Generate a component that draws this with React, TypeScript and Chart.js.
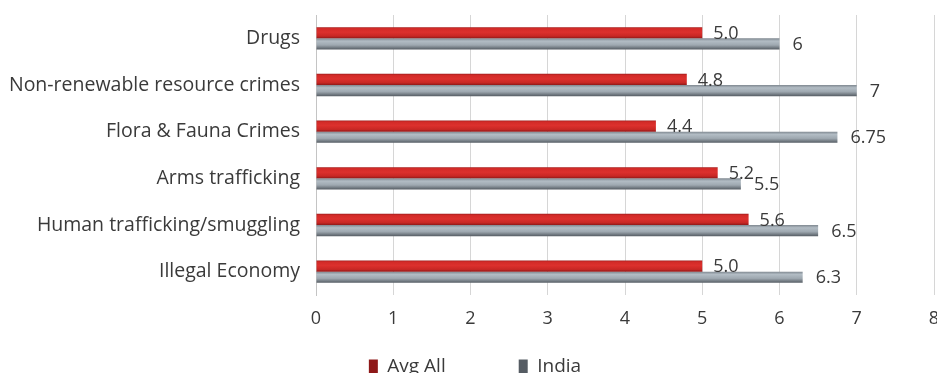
import React, { useEffect, useRef } from "react";
import { Chart, registerables } from "chart.js";

Chart.register(...registerables);

const categories = [
  "Drugs",
  "Non-renewable resource crimes",
  "Flora & Fauna Crimes",
  "Arms trafficking",
  "Human trafficking/smuggling",
  "Illegal Economy",
];
const avgAll = [5.0, 4.8, 4.4, 5.2, 5.6, 5.0];
const india = [6, 7, 6.75, 5.5, 6.5, 6.3];
const avgLabels = ["5.0", "4.8", "4.4", "5.2", "5.6", "5.0"];
const indiaLabels = ["6", "7", "6.75", "5.5", "6.5", "6.3"];
const xTicks = [0, 1, 2, 3, 4, 5, 6, 7, 8];

const FONT = "'Open Sans', 'Noto Sans', sans-serif";
const CAT_PCT = 0.48;
const LEGEND_GAP = 73;

function barFill(stops: [number, string][], solid: string) {
  return (ctx: any) => {
    const chart = ctx.chart;
    if (ctx.dataIndex === undefined || !chart.chartArea || !chart.scales || !chart.scales.y) return solid;
    const y = chart.scales.y;
    const center = y.getPixelForValue(ctx.dataIndex);
    const step = Math.abs(y.getPixelForValue(1) - y.getPixelForValue(0));
    if (!isFinite(center) || !isFinite(step) || step === 0) return solid;
    const half = (step * CAT_PCT) / 2;
    const top = ctx.datasetIndex === 0 ? center - half : center;
    const bottom = top + half;
    const g = chart.ctx.createLinearGradient(0, top, 0, bottom);
    stops.forEach(([o, c]) => g.addColorStop(o, c));
    return g;
  };
}

const labelPlugin = {
  id: "valueLabels",
  afterDatasetsDraw(chart: any) {
    const ctx = chart.ctx;
    ctx.save();
    ctx.font = `18px ${FONT}`;
    ctx.fillStyle = "#3a3a3a";
    ctx.textAlign = "left";
    ctx.textBaseline = "middle";
    const texts = [avgLabels, indiaLabels];
    chart.data.datasets.forEach((_ds: any, di: number) => {
      const meta = chart.getDatasetMeta(di);
      meta.data.forEach((el: any, i: number) => {
        const off = di === 0 ? 11 : 13;
        ctx.fillText(texts[di][i], el.x + off, el.y + 1);
      });
    });
    ctx.restore();
  },
};

const legendShift = {
  id: "legendShift",
  afterLayout(chart: any) {
    const lg = chart.legend;
    const xs = chart.scales.x;
    if (lg && xs) {
      lg.top = xs.bottom + 17 - LEGEND_GAP;
      lg.left = 0;
      lg.right = chart.width;
      lg.width = chart.width;
    }
  },
};

export default function App() {
  const ref = useRef<HTMLCanvasElement | null>(null);
  useEffect(() => {
    if (!ref.current) return;
    const chart = new Chart(ref.current, {
      type: "bar",
      data: {
        labels: categories,
        datasets: [
          {
            label: "Avg All",
            data: avgAll,
            backgroundColor: barFill(
              [
                [0, "#9c1c1c"],
                [0.12, "#d22a27"],
                [0.45, "#dc302d"],
                [0.8, "#c82724"],
                [1, "#8e1818"],
              ],
              "#c42626"
            ),
            borderWidth: 0,
          },
          {
            label: "India",
            data: india,
            backgroundColor: barFill(
              [
                [0, "#7f8890"],
                [0.25, "#b2bcc4"],
                [0.6, "#9ea8b0"],
                [1, "#555c63"],
              ],
              "#8d969d"
            ),
            borderWidth: 0,
          },
        ],
      },
      options: {
        indexAxis: "y",
        responsive: false,
        animation: false,
        maintainAspectRatio: false,
        categoryPercentage: CAT_PCT,
        barPercentage: 1,
        layout: { padding: { top: 15, right: 16, left: 0, bottom: 0 } },
        scales: {
          x: {
            min: 0,
            max: 8,
            afterBuildTicks: (s: any) => {
              s.ticks = xTicks.map((v) => ({ value: v }));
            },
            afterFit: (s: any) => {
              s.height = 45;
              s.paddingLeft = 0;
              s.paddingRight = 0;
            },
            grid: { color: "#d6d6d6", lineWidth: 1, tickLength: 0, drawTicks: false },
            border: { display: false },
            ticks: {
              color: "#3a3a3a",
              font: { family: FONT, size: 18 },
              padding: 13,
            },
          },
          y: {
            afterFit: (s: any) => {
              s.width = 316;
              s.paddingTop = 0;
              s.paddingBottom = 0;
            },
            grid: { display: false, drawTicks: false },
            border: { display: true, color: "#c4c4c4", width: 1 },
            ticks: {
              color: "#3a3a3a",
              font: { family: FONT, size: 19.5 },
              padding: 16,
            },
          },
        },
        plugins: {
          legend: {
            position: "bottom",
            maxHeight: 50,
            labels: {
              boxWidth: 9,
              boxHeight: 14,
              padding: LEGEND_GAP,
              color: "#3a3a3a",
              font: { family: FONT, size: 19 },
            },
          },
          tooltip: { enabled: false },
        },
      },
      plugins: [labelPlugin, legendShift],
    } as any);
    return () => chart.destroy();
  }, []);
  return (
    <div
      style={{
        position: "fixed",
        left: 0,
        top: 0,
        width: 937,
        height: 373,
        overflow: "hidden",
        background: "#ffffff",
      }}
    >
      <canvas ref={ref} width={950} height={390} style={{ display: "block" }} />
    </div>
  );
}
